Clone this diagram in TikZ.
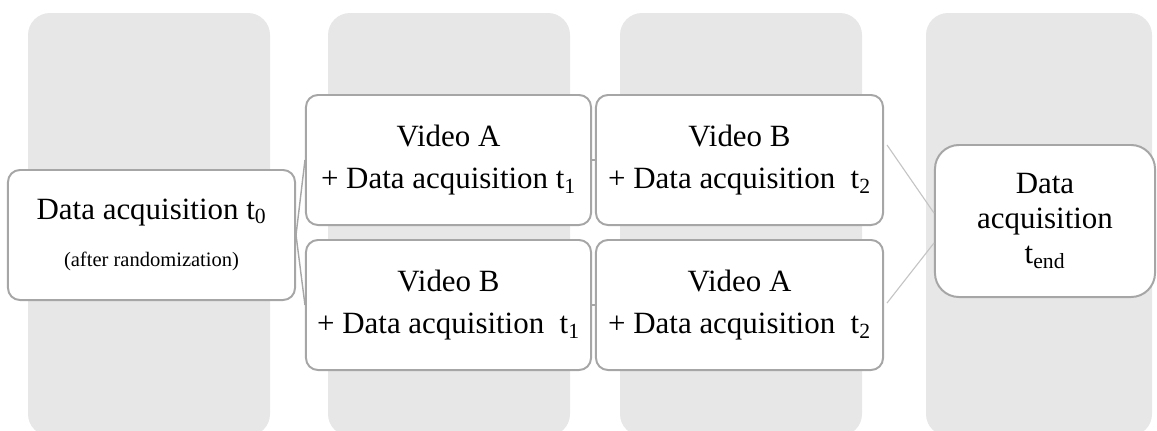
\documentclass[tikz,border=0pt]{standalone}
\usepackage{fontspec}
\setmainfont{Liberation Serif}
\usetikzlibrary{positioning,calc}
\definecolor{colfill}{RGB}{231,231,231}
\definecolor{boxline}{RGB}{166,166,166}
\definecolor{linkline}{RGB}{196,196,196}

\begin{document}
\begin{tikzpicture}[x=0.025cm, y=-0.025cm,
    stage/.style={draw=boxline, line width=1.4pt, fill=white, rounded corners=0.3cm,
      minimum width=7.15cm, minimum height=3.25cm, inner sep=0pt, align=center,
      font=\fontsize{22}{30.5}\selectfont},
    link/.style={draw=boxline, line width=1pt},
    thinlink/.style={draw=linkline, line width=0.8pt}]
            \useasboundingbox (0,0) rectangle (1157,430);

            % Background columns
            \fill[colfill, rounded corners=0.55cm] (28,13) rectangle (270,436);
            \fill[colfill, rounded corners=0.55cm] (328,13) rectangle (570,436);
            \fill[colfill, rounded corners=0.55cm] (620,13) rectangle (862,436);
            \fill[colfill, rounded corners=0.55cm] (926,13) rectangle (1152,436);

            % Baseline
            \node[stage, minimum width=7.175cm] (T0) at (151.5,235)
              {Data acquisition t\textsubscript{0}\\[3pt]
               {\fontsize{14.6}{30.5}\selectfont (after randomization)}};

            % First video
            \node[stage, minimum width=7.125cm] (VA1) at (448.5,160)
              {Video A\\+ Data acquisition t\textsubscript{1}};
            \node[stage, minimum width=7.125cm] (VB1) at (448.5,305)
              {Video B\\+ Data acquisition~~t\textsubscript{1}};
            \draw[link] (T0.east) -- (VA1.west);
            \draw[link] (T0.east) -- (VB1.west);

            % Second video
            \node[stage, minimum width=7.175cm] (VB2) at (739.5,160)
              {Video B\\+ Data acquisition~~t\textsubscript{2}};
            \node[stage, minimum width=7.175cm] (VA2) at (739.5,305)
              {Video A\\+ Data acquisition~~t\textsubscript{2}};
            \draw[link] (VA1.east) -- (VB2.west);
            \draw[link] (VB1.east) -- (VA2.west);

            % Final measurement
            \node[stage, rounded corners=0.6cm, minimum width=5.5cm, minimum height=3.8cm,
              font=\fontsize{22}{25}\selectfont] (End) at (1045,221)
              {Data\\acquisition\\t\textsubscript{end}};
            \draw[thinlink] ($(VB2.east)+(3,-15)$) -- ($(End.west)+(0,-8)$);
            \draw[thinlink] ($(VA2.east)+(3,-2)$) -- ($(End.west)+(0,22)$);
        \end{tikzpicture}
\end{document}
